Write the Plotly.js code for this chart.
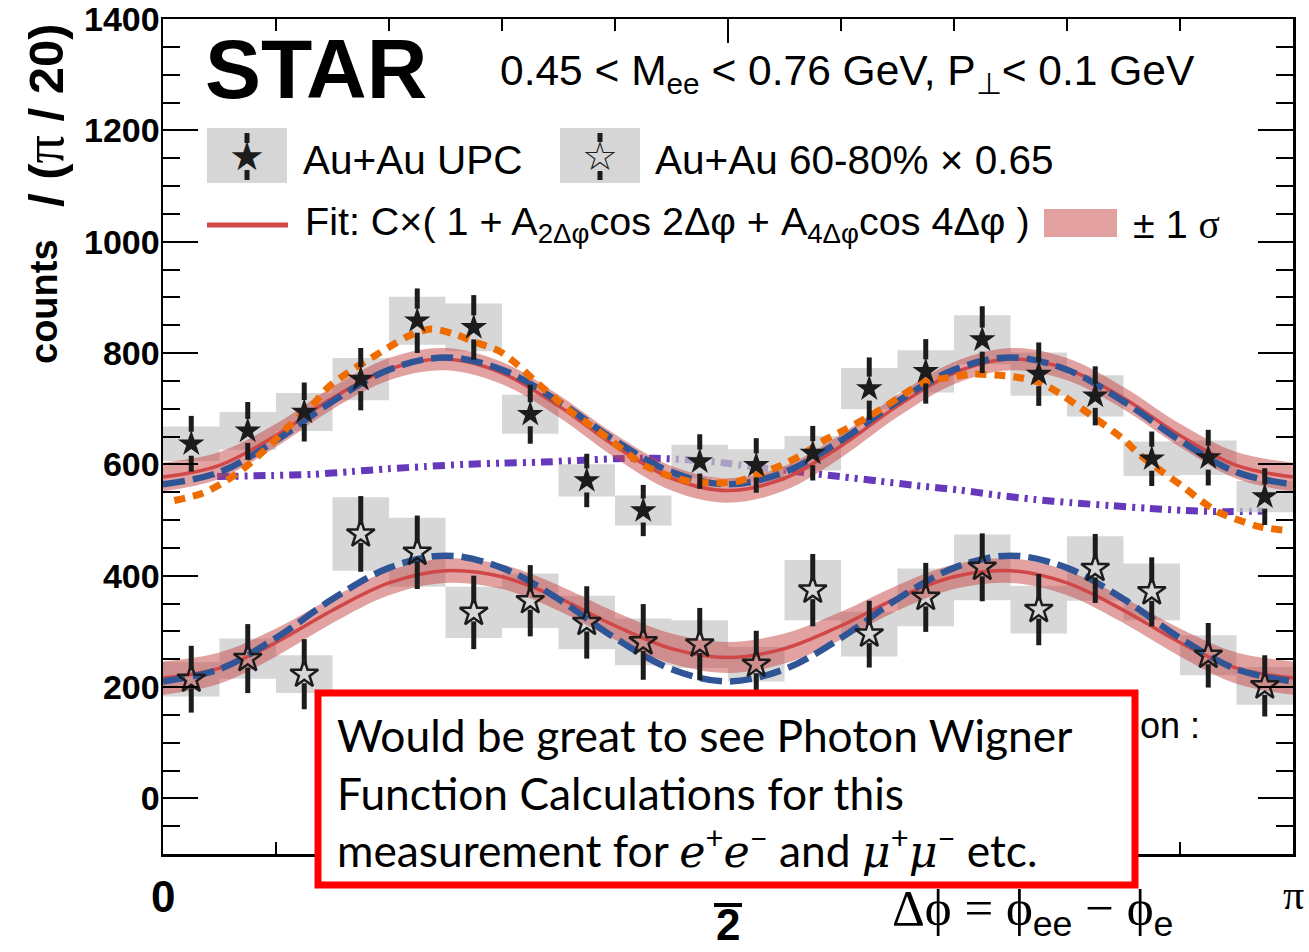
<!DOCTYPE html>
<html>
<head>
<meta charset="utf-8">
<script src="https://cdn.plot.ly/plotly-3.0.1.min.js"></script>
<style>html,body{margin:0;padding:0;background:#fff;}#chart{width:1309px;height:952px;}</style>
</head>
<body>
<div id="chart"></div>
<script>
// ---------------- data ----------------
// Au+Au UPC (filled stars)
const upcY   = [637, 660, 694, 753, 858, 846, 690, 571, 517, 605, 598, 620, 736, 767, 824, 762, 723, 610, 612, 542];
const upcErr = [50, 52, 53, 56, 58, 58, 53, 48, 46, 49, 49, 49, 56, 58, 60, 57, 53, 49, 50, 51];
const upcSys = [31, 34, 34, 38, 43, 43, 35, 29, 27, 30, 29, 31, 37, 38, 44, 39, 37, 31, 31, 28];
// Au+Au 60-80% x 0.65 (open stars)
const perY   = [214, 251, 223, 475, 442, 334, 355, 316, 281, 277, 241, 374, 295, 361, 415, 339, 413, 371, 257, 202];
const perErr = [60, 62, 63, 68, 66, 66, 64, 65, 68, 65, 60, 65, 60, 62, 61, 64, 62, 62, 58, 55];
const perSys = [31, 36, 34, 66, 62, 46, 49, 48, 42, 43, 31, 54, 40, 52, 59, 43, 58, 51, 36, 34];

// curves sampled every pi/20 from 0 to pi
const upcFit      = [577, 598, 652, 719, 771, 789, 764, 705, 633, 575, 553, 575, 633, 705, 764, 789, 771, 719, 652, 598, 577];
const upcBandHalf = [26, 24, 21, 20, 20, 20, 20, 20, 21, 22, 22, 22, 21, 20, 20, 20, 20, 20, 21, 24, 26];
const upcModel    = [564, 586, 643, 713, 770, 792, 770, 713, 643, 586, 564, 586, 643, 713, 770, 792, 770, 713, 643, 586, 564];
const perFit      = [216, 234, 280, 338, 387, 409, 398, 360, 310, 269, 253, 269, 310, 360, 398, 409, 387, 338, 280, 234, 216];
const perBandHalf = [30, 28, 25, 23, 22, 22, 22, 23, 25, 27, 28, 27, 25, 23, 22, 22, 22, 23, 25, 28, 30];
const perModel    = [210, 232, 288, 358, 414, 436, 414, 358, 288, 232, 210, 232, 288, 358, 414, 436, 414, 358, 288, 232, 210];

// orange dotted curve (x in units of pi)
const orangeXf = [0.010, 0.035, 0.054, 0.071, 0.087, 0.100, 0.113, 0.133, 0.146, 0.166, 0.185, 0.202, 0.218, 0.237, 0.258, 0.277, 0.297, 0.313, 0.329, 0.346, 0.362, 0.379, 0.395, 0.412, 0.427, 0.448, 0.467, 0.487, 0.508, 0.527, 0.548, 0.566, 0.585, 0.604, 0.623, 0.640, 0.658, 0.674, 0.696, 0.716, 0.740, 0.760, 0.778, 0.793, 0.811, 0.833, 0.850, 0.864, 0.884, 0.902, 0.919, 0.933, 0.953, 0.970, 0.991];
const orangeY  = [535, 548, 568, 592, 620, 645, 672, 708, 738, 768, 792, 813, 831, 843, 834, 819, 804, 780, 750, 720, 693, 669, 645, 618, 597, 579, 569, 567, 569, 582, 599, 618, 643, 663, 684, 705, 729, 748, 756, 762, 760, 755, 745, 728, 703, 671, 645, 618, 587, 561, 534, 515, 499, 488, 482];

// purple dash-dot curve (x in units of pi)
const purpleXf = [0.048, 0.096, 0.132, 0.167, 0.199, 0.232, 0.267, 0.299, 0.335, 0.367, 0.399, 0.435, 0.473, 0.499, 0.533, 0.573, 0.599, 0.633, 0.666, 0.704, 0.737, 0.771, 0.804, 0.838, 0.872, 0.905, 0.939, 0.973];
const purpleY  = [578, 580, 582, 587, 592, 596, 600, 602, 604, 607, 610, 611, 607, 602, 593, 584, 578, 570, 562, 554, 545, 537, 531, 526, 521, 517, 515, 516];

// y axis tick labels
const yTickVals = [0, 200, 400, 600, 800, 1000, 1200, 1400];

// ---------------- geometry helpers ----------------
const W = 1309, H = 952;
const M = {l: 163, r: 16, t: 19, b: 98};
const plotW = W - M.l - M.r, plotH = H - M.t - M.b;
const yRange = [-100, 1400];
const PI = Math.PI;
const binW = PI / upcY.length;
const centers = upcY.map((_, i) => (i + 0.5) * binW);
const fitX = upcFit.map((_, k) => k * PI / (upcFit.length - 1));
const pxPerUnit = plotH / (yRange[1] - yRange[0]);
// paper coordinates for decorations
const X = p => (p - M.l) / plotW;
const Y = p => (H - M.b - p) / plotH;

function boxes(ys, sys) {
  const bx = [], by = [];
  ys.forEach((v, i) => {
    const x0 = centers[i] - binW / 2, x1 = centers[i] + binW / 2;
    bx.push(x0, x1, x1, x0, x0, null);
    by.push(v - sys[i], v - sys[i], v + sys[i], v + sys[i], v - sys[i], null);
  });
  return {bx, by};
}
function errSegs(ys, errs, gapPx) {
  const g = gapPx / pxPerUnit;
  const ex = [], ey = [];
  ys.forEach((v, i) => {
    ex.push(centers[i], centers[i], null, centers[i], centers[i], null);
    ey.push(v + errs[i], v + g, null, v - g, v - errs[i], null);
  });
  return {ex, ey};
}

const boxColor = 'rgba(200,200,200,0.72)';
const bandColor = 'rgba(200,70,70,0.5)';
const fitColor = '#cf4747';
const blue = '#2f5597';
const orange = '#ef6c00';
const purple = '#6638bb';
const ink = '#1c1c1c';

const bU = boxes(upcY, upcSys), bP = boxes(perY, perSys);
const eU = errSegs(upcY, upcErr, 12), eP = errSegs(perY, perErr, 9);

const traces = [
  // purple (drawn under the grey boxes)
  {x: purpleXf.map(f => f * PI), y: purpleY, mode: 'lines', line: {color: purple, width: 7, dash: '12px,6px,3px,6px,3px,6px', shape: 'spline', smoothing: 0.8}, hoverinfo: 'skip'},
  // systematic boxes
  {x: bU.bx, y: bU.by, mode: 'lines', fill: 'toself', fillcolor: boxColor, line: {width: 0}, hoverinfo: 'skip'},
  {x: bP.bx, y: bP.by, mode: 'lines', fill: 'toself', fillcolor: boxColor, line: {width: 0}, hoverinfo: 'skip'},
  // UPC band
  {x: fitX, y: upcFit.map((v, i) => v - upcBandHalf[i]), mode: 'lines', line: {width: 0, shape: 'spline'}, hoverinfo: 'skip'},
  {x: fitX, y: upcFit.map((v, i) => v + upcBandHalf[i]), mode: 'lines', fill: 'tonexty', fillcolor: bandColor, line: {width: 0, shape: 'spline'}, hoverinfo: 'skip'},
  // peripheral band
  {x: fitX, y: perFit.map((v, i) => v - perBandHalf[i]), mode: 'lines', line: {width: 0, shape: 'spline'}, hoverinfo: 'skip'},
  {x: fitX, y: perFit.map((v, i) => v + perBandHalf[i]), mode: 'lines', fill: 'tonexty', fillcolor: bandColor, line: {width: 0, shape: 'spline'}, hoverinfo: 'skip'},
  // fits
  {x: fitX, y: upcFit, mode: 'lines', line: {color: fitColor, width: 3.5, shape: 'spline'}, hoverinfo: 'skip'},
  {x: fitX, y: perFit, mode: 'lines', line: {color: fitColor, width: 3.5, shape: 'spline'}, hoverinfo: 'skip'},
  // blue dashed models
  {x: fitX, y: upcModel, mode: 'lines', line: {color: blue, width: 6.5, dash: '22px,8px', shape: 'spline'}, hoverinfo: 'skip'},
  {x: fitX, y: perModel, mode: 'lines', line: {color: blue, width: 6.5, dash: '22px,8px', shape: 'spline'}, hoverinfo: 'skip'},
  // orange dotted
  {x: orangeXf.map(f => f * PI), y: orangeY, mode: 'lines', line: {color: orange, width: 7, dash: '11px,8px', shape: 'spline', smoothing: 0.8}, hoverinfo: 'skip'},
  // error bars
  {x: eU.ex, y: eU.ey, mode: 'lines', line: {color: ink, width: 5}, hoverinfo: 'skip'},
  {x: eP.ex, y: eP.ey, mode: 'lines', line: {color: ink, width: 5}, hoverinfo: 'skip'},
  // markers
  {x: centers, y: upcY, mode: 'markers', marker: {symbol: 'star', size: 20, color: ink, line: {width: 0}}, name: 'Au+Au UPC'},
  {x: centers, y: perY, mode: 'markers', marker: {symbol: 'star-open', size: 21, color: ink, line: {width: 2.5, color: ink}}, name: 'Au+Au 60-80% × 0.65'}
];

const sans = 'Liberation Sans, Arial, sans-serif';
const serif = 'Liberation Serif, DejaVu Serif, serif';

function txt(text, xpx, ypx, size, opts) {
  return Object.assign({
    text: text, xref: 'paper', yref: 'paper', x: X(xpx), y: Y(ypx),
    xanchor: 'left', yanchor: 'middle', showarrow: false,
    font: {family: sans, size: size, color: '#000'}
  }, opts || {});
}
const it = s => '<span style="font-family:DejaVu Serif;font-style:italic">' + s + '</span>';

const annotations = [
  txt('STAR', 203, 69, 84, {font: {family: sans, size: 84, color: '#000', weight: 'bold'}}),
  txt('0.45 < M<sub>ee</sub> < 0.76 GeV, P<sub>⊥</sub>< 0.1 GeV', 498, 73, 42.5),
  txt('★', 247, 156, 40, {xanchor: 'center', font: {family: 'DejaVu Sans', size: 40, color: ink}}),
  txt('☆', 600, 156, 40, {xanchor: 'center', font: {family: 'DejaVu Sans', size: 40, color: ink}}),
  txt('Au+Au UPC', 301, 160, 40.5),
  txt('Au+Au 60-80% × 0.65', 653, 160, 40.5),
  txt('Fit: C×( 1 + A<sub>2Δφ</sub>cos 2Δφ + A<sub>4Δφ</sub>cos 4Δφ )', 303, 224, 39.5),
  txt('± 1 <span style="font-family:Liberation Serif">σ</span>', 1131, 224, 39.5),
  txt('on :', 1138, 725, 36),
  // y axis title (two pieces)
  {text: '<b>counts</b>', xref: 'paper', yref: 'paper',
   x: X(44), y: Y(302), xanchor: 'center', yanchor: 'middle', textangle: -90, showarrow: false,
   font: {family: sans, size: 38, color: '#000'}},
  {text: '<b>/ (</b><span style="font-family:Liberation Serif;font-size:56px">π</span><b> / 20)</b>', xref: 'paper', yref: 'paper',
   x: X(44), y: Y(115), xanchor: 'center', yanchor: 'middle', textangle: -90, showarrow: false,
   font: {family: sans, size: 49, color: '#000'}},
  // x tick labels
  {text: '<b>0</b>', xref: 'x', yref: 'paper', x: 0, y: Y(896), xanchor: 'center', yanchor: 'middle', showarrow: false, font: {family: sans, size: 44, color: '#000'}},
  {text: '<b>2</b>', xref: 'x', yref: 'paper', x: PI / 2, y: Y(924), xanchor: 'center', yanchor: 'middle', showarrow: false, font: {family: sans, size: 44, color: '#000'}},
  {text: 'π', xref: 'x', yref: 'paper', x: PI, y: Y(895), xanchor: 'center', yanchor: 'middle', showarrow: false, font: {family: serif, size: 42, color: '#000'}},
  // x axis title
  txt('Δϕ = ϕ<sub><span style="font-family:Liberation Sans">ee</span></sub> − ϕ<sub><span style="font-family:Liberation Sans">e</span></sub>', 890, 912, 51, {font: {family: serif, size: 51, color: '#000'}}),
  // comment box text
  txt('Would be great to see Photon Wigner<br>Function Calculations for this<br>measurement for ' + it('e') + '<sup>+</sup>' + it('e') + '<sup>−</sup> and ' + it('μ') + '<sup>+</sup>' + it('μ') + '<sup>−</sup> etc.',
      335, 792, 44.3, {align: 'left', font: {family: 'Lato, Open Sans, sans-serif', size: 44.3, color: '#000'}})
];

const shapes = [
  // legend keys
  {type: 'rect', xref: 'paper', yref: 'paper', x0: X(207), x1: X(287), y0: Y(183), y1: Y(128), fillcolor: '#d6d6d6', line: {width: 0}},
  {type: 'line', xref: 'paper', yref: 'paper', x0: X(247), x1: X(247), y0: Y(133), y1: Y(143), line: {color: ink, width: 5}},
  {type: 'line', xref: 'paper', yref: 'paper', x0: X(247), x1: X(247), y0: Y(170), y1: Y(180), line: {color: ink, width: 5}},
  {type: 'rect', xref: 'paper', yref: 'paper', x0: X(560), x1: X(640), y0: Y(183), y1: Y(128), fillcolor: '#d6d6d6', line: {width: 0}},
  {type: 'line', xref: 'paper', yref: 'paper', x0: X(600), x1: X(600), y0: Y(133), y1: Y(142), line: {color: ink, width: 5}},
  {type: 'line', xref: 'paper', yref: 'paper', x0: X(600), x1: X(600), y0: Y(171), y1: Y(180), line: {color: ink, width: 5}},
  {type: 'line', xref: 'paper', yref: 'paper', x0: X(207), x1: X(288), y0: Y(225), y1: Y(225), line: {color: '#d04848', width: 5}},
  {type: 'rect', xref: 'paper', yref: 'paper', x0: X(1044), x1: X(1117), y0: Y(237), y1: Y(209), fillcolor: '#e3a0a0', line: {width: 0}},
  // fraction bar of the pi/2 label
  {type: 'line', xref: 'paper', yref: 'paper', x0: X(714), x1: X(742), y0: Y(905), y1: Y(905), line: {color: '#000', width: 4}},
  // comment box
  {type: 'rect', xref: 'paper', yref: 'paper', layer: 'above', x0: X(318), x1: X(1135), y0: Y(885), y1: Y(693), fillcolor: '#fff', line: {color: '#ff0000', width: 7}}
];

const axisCommon = {
  showgrid: false, zeroline: false, showline: true, linecolor: '#000', linewidth: 2.5,
  mirror: 'allticks', ticks: 'inside', tickcolor: '#000', tickwidth: 2
};

const layout = {
  width: W, height: H,
  margin: M,
  paper_bgcolor: '#fff', plot_bgcolor: '#fff',
  showlegend: false,
  xaxis: Object.assign({}, axisCommon, {
    range: [0, PI], tickmode: 'array', tickvals: [0, PI / 2, PI], ticklen: 24, showticklabels: false,
    minor: {tick0: 0, dtick: PI / 10, ticks: 'inside', ticklen: 12, tickwidth: 2, tickcolor: '#000'}
  }),
  yaxis: Object.assign({}, axisCommon, {
    range: yRange, tickmode: 'array', tickvals: yTickVals, ticktext: yTickVals.map(String), ticklen: 35,
    ticklabeloverflow: 'allow', ticklabelstandoff: -6,
    tickfont: {family: sans, size: 34, color: '#000', weight: 'bold'},
    minor: {tick0: 0, dtick: 50, ticks: 'inside', ticklen: 17, tickwidth: 2, tickcolor: '#000'}
  }),
  annotations: annotations,
  shapes: shapes
};

Plotly.newPlot('chart', traces, layout, {staticPlot: true, displayModeBar: false});
</script>
</body>
</html>
